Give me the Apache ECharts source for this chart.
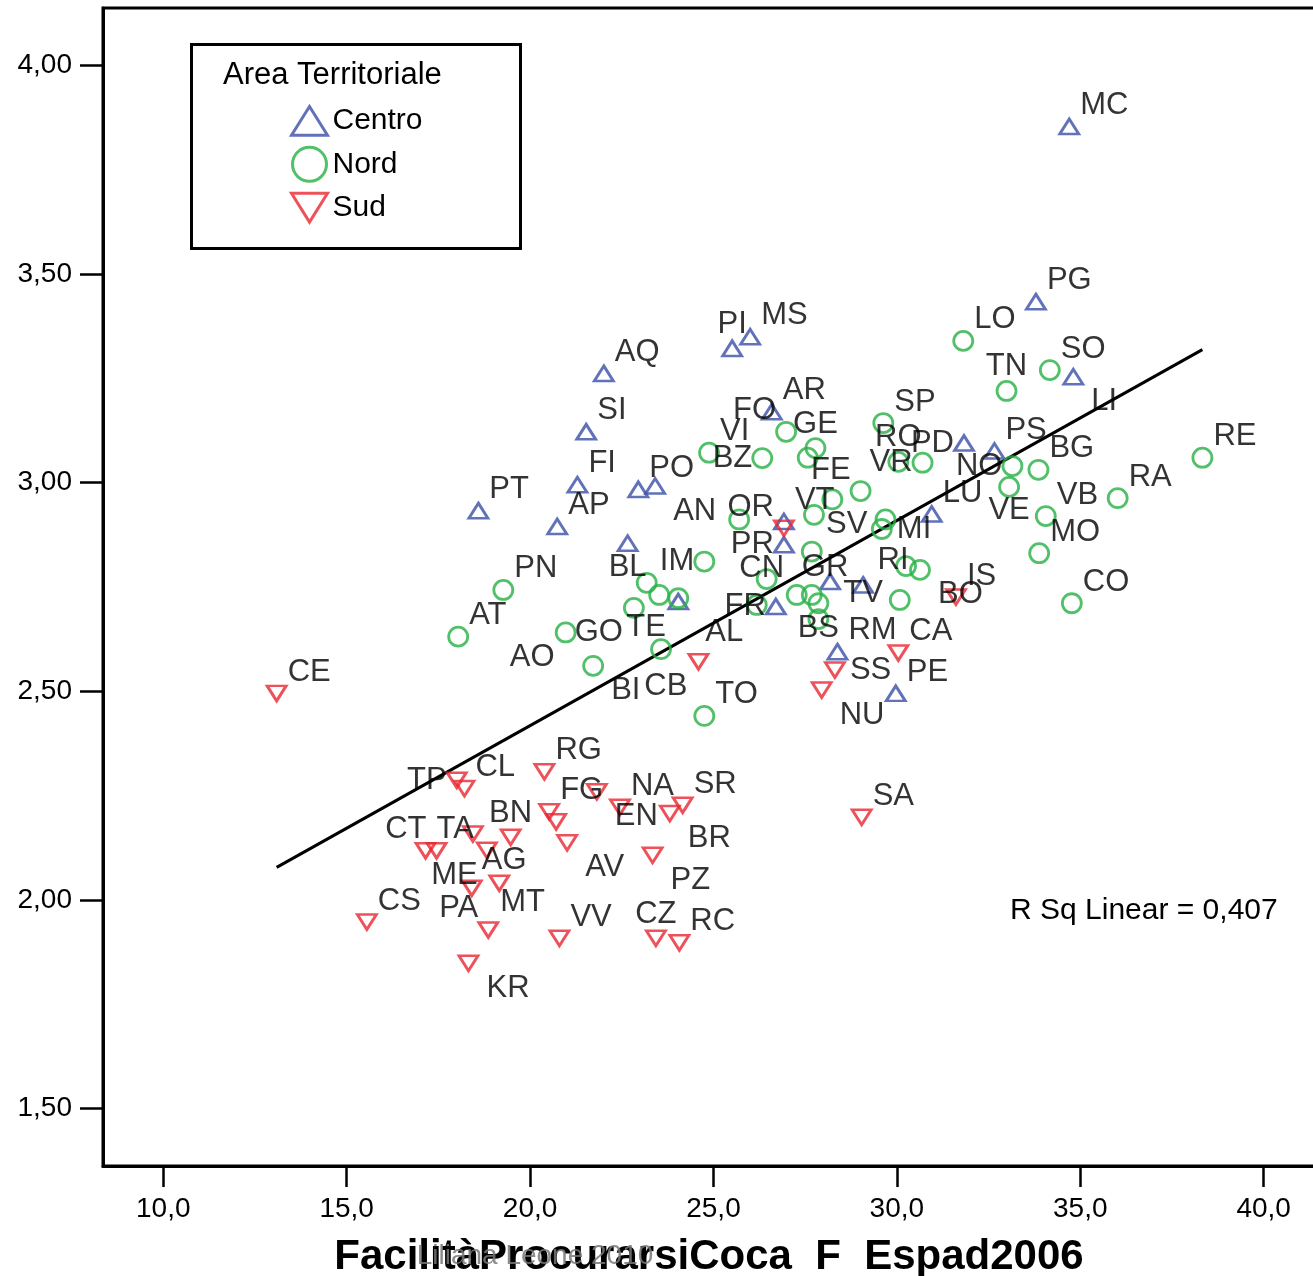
<!DOCTYPE html>
<html>
<head>
<meta charset="utf-8">
<script src="https://cdn.jsdelivr.net/npm/echarts@6/dist/echarts.min.js"></script>
<style>
  html, body { margin: 0; padding: 0; background: #fff; }
  #chart { width: 1313px; height: 1276px; }
</style>
</head>
<body>
<div id="chart"></div>
<script>
// Centro
const centroNames = ['MC', 'PG', 'LI', 'PI', 'MS', 'AQ', 'SI', 'AR', 'FI', 'PO', 'AN', 'PT', 'AP', 'BL', 'VT', 'PR', 'LU', 'PD', 'PS', 'AL', 'FR', 'GR', 'TV', 'RM', 'PE']
const centroX = [34.70, 33.79, 34.81, 25.51, 26.00, 22.01, 21.53, 26.59, 21.29, 22.95, 23.41, 18.59, 20.74, 22.66, 26.92, 26.92, 30.95, 31.83, 32.66, 24.04, 26.70, 28.18, 29.08, 28.38, 29.97]
const centroY = [3.854, 3.434, 3.254, 3.322, 3.350, 3.262, 3.122, 3.170, 2.995, 2.984, 2.992, 2.933, 2.895, 2.855, 2.907, 2.851, 2.925, 3.095, 3.076, 2.715, 2.703, 2.763, 2.755, 2.595, 2.495]

// Nord ('' = label hidden under other labels)
const nordNames = ['RE', 'RA', 'CO', 'MO', 'VB', 'VE', 'NO', 'BG', 'SO', 'TN', 'LO', 'SP', 'RO', 'VR', 'FE', '', 'SV', '', 'MI', '', 'RI', 'BO', '', '', '', '', 'BS', 'CN', '', '', 'IM', 'FO', 'VI', 'BZ', 'GE', '', '', '', '', 'GO', 'AO', 'BI', 'TE', 'TO', 'PN', 'AT']
const nordX = [38.33, 36.02, 34.77, 33.88, 34.06, 33.06, 33.15, 33.86, 34.17, 32.99, 31.81, 29.63, 30.04, 30.70, 29.01, 28.24, 27.74, 29.69, 29.59, 27.68, 30.25, 30.63, 30.08, 27.27, 27.68, 27.86, 27.86, 26.45, 26.18, 25.70, 24.75, 26.98, 24.88, 26.33, 27.78, 27.57, 23.18, 23.52, 24.04, 22.83, 20.97, 21.72, 23.57, 24.75, 19.27, 18.04]
const nordY = [3.060, 2.963, 2.711, 2.831, 2.920, 2.990, 3.040, 3.031, 3.270, 3.220, 3.340, 3.143, 3.050, 3.048, 2.980, 2.960, 2.923, 2.912, 2.889, 2.835, 2.800, 2.791, 2.719, 2.731, 2.731, 2.711, 2.673, 2.769, 2.707, 2.912, 2.811, 3.122, 3.072, 3.059, 3.083, 3.060, 2.760, 2.731, 2.723, 2.700, 2.641, 2.561, 2.601, 2.441, 2.743, 2.631]

// Sud
const sudNames = ['CE', 'TP', 'CL', 'RG', 'EN', 'NA', 'BR', 'SR', 'FG', '', 'AV', '', 'BN', 'AG', 'TA', 'CT', 'PZ', 'MT', 'ME', 'CS', 'PA', 'VV', 'CZ', 'RC', 'KR', 'SA', 'OR', 'IS', 'CB', 'SS', 'NU', 'CA']
const sudX = [13.09, 18.00, 18.21, 20.39, 21.82, 22.45, 23.81, 24.16, 20.52, 20.71, 21.01, 18.44, 19.47, 18.82, 17.15, 17.45, 23.34, 19.16, 18.41, 15.55, 18.86, 20.80, 23.43, 24.07, 18.32, 29.04, 26.92, 31.61, 24.59, 28.31, 27.95, 30.04]
const sudY = [2.495, 2.287, 2.267, 2.307, 2.259, 2.222, 2.207, 2.227, 2.211, 2.187, 2.137, 2.158, 2.150, 2.119, 2.118, 2.118, 2.107, 2.040, 2.028, 1.947, 1.928, 1.908, 1.908, 1.897, 1.848, 2.198, 2.891, 2.726, 2.571, 2.551, 2.503, 2.592]

// linear fit (ends)
const fitX = [13.09, 38.33]
const fitY = [2.078, 3.319]

const xTicks = [10, 15, 20, 25, 30, 35, 40]
const yTicks = [1.5, 2, 2.5, 3, 3.5, 4]

const FONT = '"Liberation Sans", Arial, sans-serif'
const UP = 'path://M10,0L20,16L0,16Z'
const DOWN = 'path://M0,0L20,0L10,16Z'

// where each label sits around its marker
const placements = {
  UR: [11, -21, 'left'],
  UL: [-10, -21, 'right'],
  BR: [18, 25, 'left'],
  BL: [-11, 25, 'right'],
  T: [0, -24, 'center'],
  B: [0, 24, 'center'],
  L: [-10, 0, 'right'],
  R: [15, 0, 'left'],
  C: [0, 9, 'center']
}
const labelMode = {
  CT: 'UL', PA: 'UL', OR: 'UL', FO: 'UL', FE: 'UL',
  EN: 'BR', BR: 'BR', AV: 'BR', PZ: 'BR', KR: 'BR', NU: 'BR', LI: 'BR', AN: 'BR', BO: 'BR', BI: 'BR',
  CB: 'BL', GO: 'BL', AO: 'BL',
  BN: 'T', CZ: 'T', PI: 'T', RO: 'T', TN: 'T', GE: 'T',
  VE: 'B', BL: 'B',
  TP: 'L', PR: 'L', PD: 'L', VR: 'L', FR: 'L', NO: 'L', BZ: 'L', IM: 'L',
  SS: 'R', MI: 'R',
  TV: 'C', BS: 'C',
  ME: [6, -13, 'right'],
  AG: [-5, 10, 'left'],
  MT: [1, 19, 'left'],
  TE: [-15, -22, 'center'],
  AL: [27, 31, 'left'],
  CN: [-5, -11, 'center'],
  GR: [-5, -14, 'center'],
  RI: [-13, -6, 'center'],
  SV: [12, 10, 'left']
}

function makeItems(names, xs, ys) {
  return names.map((n, i) => {
    const m = labelMode[n] || 'UR'
    const p = Array.isArray(m) ? m : placements[m]
    return {
      name: n,
      value: [xs[i], ys[i]],
      label: { show: n !== '', offset: [p[0], p[1]], align: p[2] }
    }
  })
}

function pointSeries(name, color, symbol, size, items) {
  return {
    name: name,
    type: 'scatter',
    symbol: symbol,
    symbolSize: size,
    itemStyle: { color: 'rgba(255,255,255,0)', borderColor: color, borderWidth: 2.8 },
    label: {
      show: true,
      position: 'inside',
      verticalAlign: 'middle',
      formatter: '{b}',
      color: '#000',
      textBorderWidth: 0,
      fontSize: 31,
      fontFamily: FONT
    },
    emphasis: { disabled: true },
    data: items,
    z: 3
  }
}

const chart = echarts.init(document.getElementById('chart'))
chart.setOption({
  animation: false,
  backgroundColor: '#fff',
  grid: {
    left: 103,
    right: -2,
    top: 8,
    bottom: 110,
    outerBoundsMode: 'none',
    show: true,
    borderColor: '#000',
    borderWidth: 3
  },
  legend: {
    data: ['Centro', 'Nord', 'Sud'],
    orient: 'vertical',
    left: 285,
    top: 100,
    itemWidth: 36,
    itemHeight: 34,
    itemGap: 9,
    itemTextGap: 14,
    selectedMode: false,
    itemStyle: { borderWidth: 3 },
    textStyle: { fontSize: 30, color: '#000', fontFamily: FONT }
  },
  xAxis: {
    type: 'value',
    min: 8.356,
    max: 41.40,
    name: 'FacilitàProcurarsiCoca  F  Espad2006',
    nameLocation: 'middle',
    nameGap: 70,
    nameTextStyle: { fontSize: 42, fontWeight: 'bold', color: '#000', fontFamily: FONT },
    splitLine: { show: false },
    axisLine: { lineStyle: { color: '#000', width: 3 } },
    axisTick: { customValues: xTicks, length: 21, lineStyle: { color: '#000', width: 2.5 } },
    axisLabel: {
      customValues: xTicks,
      margin: 29,
      fontSize: 28,
      color: '#000',
      fontFamily: FONT,
      formatter: v => v.toFixed(1).replace('.', ',')
    }
  },
  yAxis: {
    type: 'value',
    min: 1.362,
    max: 4.138,
    splitLine: { show: false },
    axisLine: { lineStyle: { color: '#000', width: 3 } },
    axisTick: { customValues: yTicks, length: 23, lineStyle: { color: '#000', width: 2.5 } },
    axisLabel: {
      customValues: yTicks,
      margin: 31,
      fontSize: 28,
      color: '#000',
      fontFamily: FONT,
      formatter: v => v.toFixed(2).replace('.', ',')
    }
  },
  graphic: [
    {
      type: 'rect',
      shape: { x: 191.5, y: 44.5, width: 329, height: 204 },
      style: { fill: 'none', stroke: '#000', lineWidth: 3 },
      z: 10
    },
    {
      type: 'text',
      x: 223,
      y: 75,
      style: { text: 'Area Territoriale', font: '31px ' + FONT, fill: '#000', textVerticalAlign: 'middle' },
      z: 10
    },
    {
      type: 'text',
      x: 1010,
      y: 911,
      style: { text: 'R Sq Linear = 0,407', font: '30px ' + FONT, fill: '#000', textVerticalAlign: 'middle' },
      z: 10
    },
    {
      type: 'text',
      x: 535,
      y: 1256,
      style: {
        text: 'Liliana Leone 2010',
        font: '28px ' + FONT,
        fill: 'rgba(120,120,120,0.85)',
        textAlign: 'center',
        textVerticalAlign: 'middle'
      },
      z: 100
    }
  ],
  series: [
    {
      name: 'fit',
      type: 'line',
      data: fitX.map((x, i) => [x, fitY[i]]),
      symbol: 'none',
      lineStyle: { color: '#000', width: 3 },
      silent: true,
      z: 2
    },
    pointSeries('Centro', '#3a4fa8', UP, [19, 15], makeItems(centroNames, centroX, centroY)),
    pointSeries('Nord', '#25b043', 'circle', 19, makeItems(nordNames, nordX, nordY)),
    pointSeries('Sud', '#e8262f', DOWN, [19, 15], makeItems(sudNames, sudX, sudY))
  ]
})
</script>
</body>
</html>
